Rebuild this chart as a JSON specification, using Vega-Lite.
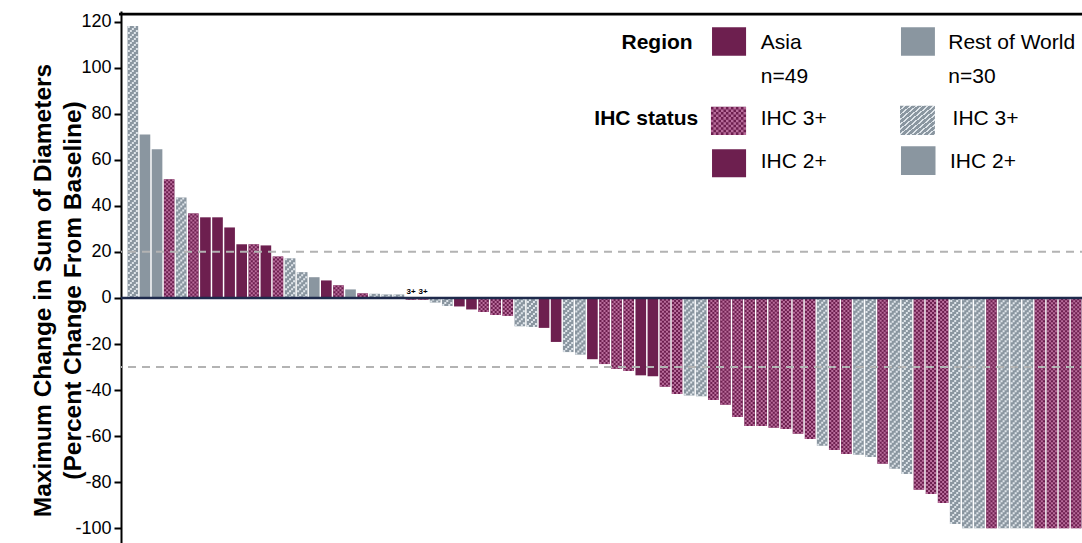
{
  "$schema": "https://vega.github.io/schema/vega-lite/v6.json",
  "width": 967,
  "height": 534,
  "autosize": {"type": "none"},
  "padding": {"left": 121, "top": 11, "right": -6, "bottom": -2},
  "background": "white",
  "config": {"view": {"stroke": null}, "font": "Liberation Sans"},
  "datasets": {
    "patients": [
      {"id": 1, "region": "Rest of World", "ihc": "3+", "value": 118},
      {"id": 2, "region": "Rest of World", "ihc": "2+", "value": 71},
      {"id": 3, "region": "Rest of World", "ihc": "2+", "value": 64.5},
      {"id": 4, "region": "Asia", "ihc": "3+", "value": 51.5},
      {"id": 5, "region": "Rest of World", "ihc": "3+", "value": 43.6},
      {"id": 6, "region": "Asia", "ihc": "3+", "value": 36.7},
      {"id": 7, "region": "Asia", "ihc": "2+", "value": 35},
      {"id": 8, "region": "Asia", "ihc": "2+", "value": 35},
      {"id": 9, "region": "Asia", "ihc": "2+", "value": 30.6},
      {"id": 10, "region": "Asia", "ihc": "2+", "value": 23.3},
      {"id": 11, "region": "Asia", "ihc": "3+", "value": 23.3},
      {"id": 12, "region": "Asia", "ihc": "2+", "value": 22.8},
      {"id": 13, "region": "Asia", "ihc": "3+", "value": 18},
      {"id": 14, "region": "Rest of World", "ihc": "3+", "value": 17.2},
      {"id": 15, "region": "Rest of World", "ihc": "3+", "value": 11.2},
      {"id": 16, "region": "Rest of World", "ihc": "2+", "value": 9},
      {"id": 17, "region": "Asia", "ihc": "2+", "value": 7.6},
      {"id": 18, "region": "Asia", "ihc": "3+", "value": 5.5},
      {"id": 19, "region": "Rest of World", "ihc": "2+", "value": 3.7},
      {"id": 20, "region": "Asia", "ihc": "3+", "value": 2.0},
      {"id": 21, "region": "Rest of World", "ihc": "3+", "value": 1.8},
      {"id": 22, "region": "Rest of World", "ihc": "3+", "value": 1.5},
      {"id": 23, "region": "Rest of World", "ihc": "3+", "value": 1.5},
      {"id": 24, "region": "Asia", "ihc": "3+", "value": -0.8, "label": "3+"},
      {"id": 25, "region": "Asia", "ihc": "3+", "value": -0.8, "label": "3+"},
      {"id": 26, "region": "Rest of World", "ihc": "3+", "value": -2},
      {"id": 27, "region": "Rest of World", "ihc": "3+", "value": -3.5},
      {"id": 28, "region": "Asia", "ihc": "2+", "value": -3.7},
      {"id": 29, "region": "Asia", "ihc": "2+", "value": -5},
      {"id": 30, "region": "Asia", "ihc": "3+", "value": -6.1},
      {"id": 31, "region": "Asia", "ihc": "3+", "value": -7.4},
      {"id": 32, "region": "Asia", "ihc": "3+", "value": -7.8},
      {"id": 33, "region": "Rest of World", "ihc": "3+", "value": -12.3},
      {"id": 34, "region": "Rest of World", "ihc": "3+", "value": -12.6},
      {"id": 35, "region": "Asia", "ihc": "2+", "value": -13},
      {"id": 36, "region": "Asia", "ihc": "2+", "value": -19.1},
      {"id": 37, "region": "Rest of World", "ihc": "3+", "value": -23.5},
      {"id": 38, "region": "Rest of World", "ihc": "3+", "value": -24.6},
      {"id": 39, "region": "Asia", "ihc": "2+", "value": -26.6},
      {"id": 40, "region": "Asia", "ihc": "3+", "value": -28.7},
      {"id": 41, "region": "Asia", "ihc": "3+", "value": -30.8},
      {"id": 42, "region": "Asia", "ihc": "3+", "value": -31.7},
      {"id": 43, "region": "Asia", "ihc": "2+", "value": -33.6},
      {"id": 44, "region": "Asia", "ihc": "2+", "value": -34},
      {"id": 45, "region": "Asia", "ihc": "3+", "value": -38.6},
      {"id": 46, "region": "Asia", "ihc": "3+", "value": -41.7},
      {"id": 47, "region": "Rest of World", "ihc": "3+", "value": -42.3},
      {"id": 48, "region": "Rest of World", "ihc": "3+", "value": -42.7},
      {"id": 49, "region": "Asia", "ihc": "3+", "value": -44.3},
      {"id": 50, "region": "Asia", "ihc": "3+", "value": -46.4},
      {"id": 51, "region": "Asia", "ihc": "3+", "value": -51.7},
      {"id": 52, "region": "Asia", "ihc": "3+", "value": -55.6},
      {"id": 53, "region": "Asia", "ihc": "3+", "value": -55.6},
      {"id": 54, "region": "Asia", "ihc": "3+", "value": -56.3},
      {"id": 55, "region": "Asia", "ihc": "3+", "value": -56.9},
      {"id": 56, "region": "Asia", "ihc": "3+", "value": -59},
      {"id": 57, "region": "Asia", "ihc": "3+", "value": -61.2},
      {"id": 58, "region": "Rest of World", "ihc": "3+", "value": -64.2},
      {"id": 59, "region": "Asia", "ihc": "3+", "value": -66},
      {"id": 60, "region": "Asia", "ihc": "3+", "value": -67.7},
      {"id": 61, "region": "Rest of World", "ihc": "3+", "value": -68.1},
      {"id": 62, "region": "Rest of World", "ihc": "3+", "value": -69},
      {"id": 63, "region": "Asia", "ihc": "3+", "value": -72},
      {"id": 64, "region": "Rest of World", "ihc": "3+", "value": -74.2},
      {"id": 65, "region": "Rest of World", "ihc": "3+", "value": -76.4},
      {"id": 66, "region": "Asia", "ihc": "3+", "value": -83.3},
      {"id": 67, "region": "Asia", "ihc": "3+", "value": -85.1},
      {"id": 68, "region": "Asia", "ihc": "3+", "value": -89},
      {"id": 69, "region": "Rest of World", "ihc": "3+", "value": -98.1},
      {"id": 70, "region": "Rest of World", "ihc": "3+", "value": -100},
      {"id": 71, "region": "Rest of World", "ihc": "3+", "value": -100},
      {"id": 72, "region": "Asia", "ihc": "3+", "value": -100},
      {"id": 73, "region": "Rest of World", "ihc": "3+", "value": -100},
      {"id": 74, "region": "Rest of World", "ihc": "3+", "value": -100},
      {"id": 75, "region": "Rest of World", "ihc": "3+", "value": -100},
      {"id": 76, "region": "Asia", "ihc": "3+", "value": -100},
      {"id": 77, "region": "Asia", "ihc": "3+", "value": -100},
      {"id": 78, "region": "Asia", "ihc": "3+", "value": -100},
      {"id": 79, "region": "Asia", "ihc": "3+", "value": -100}
    ],
    "refs": [{"level": 20}, {"level": -30}],
    "zero": [{"level": 0}],
    "border": [{"lx": -0.2, "lx2": 100, "ly": 122.6, "ly2": 123.8}],
    "swatches": [
      {"lx": 61.12, "lx2": 64.64, "ly": 117.5, "ly2": 105.1, "region": "Asia"},
      {"lx": 80.66, "lx2": 84.17, "ly": 117.5, "ly2": 105.1, "region": "Rest of World"},
      {"lx": 61.12, "lx2": 64.64, "ly": 64.5, "ly2": 52.4, "region": "Asia"},
      {"lx": 80.66, "lx2": 84.23, "ly": 65.9, "ly2": 53.4, "region": "Rest of World"},
      {"lx": 61.01, "lx2": 64.64, "ly": 83.0, "ly2": 70.7, "region": "Asia"}
    ],
    "hatchSwatch": [{"lx": 80.56, "lx2": 84.17, "ly": 83.4, "ly2": 70.7}],
    "checkSwatch": [{"lx": 62.82, "ly": 76.85}],
    "legendTitles": [
      {"lx": 59.12, "ly": 110.5, "t": "Region"},
      {"lx": 59.69, "ly": 77.5, "t": "IHC status"}
    ],
    "legendLabels": [
      {"lx": 66.16, "ly": 110.5, "t": "Asia"},
      {"lx": 66.16, "ly": 96.0, "t": "n=49"},
      {"lx": 85.55, "ly": 110.5, "t": "Rest of World"},
      {"lx": 85.55, "ly": 96.0, "t": "n=30"},
      {"lx": 66.16, "ly": 77.5, "t": "IHC 3+"},
      {"lx": 66.16, "ly": 59.1, "t": "IHC 2+"},
      {"lx": 86.0, "ly": 77.5, "t": "IHC 3+"},
      {"lx": 85.73, "ly": 59.1, "t": "IHC 2+"}
    ]
  },
  "layer": [
    {
      "data": {"name": "patients"},
      "layer": [
        {
          "mark": {"type": "bar"},
          "encoding": {
            "x": {"field": "id", "type": "ordinal", "scale": {"paddingInner": 0.12, "paddingOuter": 0.54}, "axis": null},
            "y": {"field": "value", "type": "quantitative", "scale": {"domain": [-107.25, 124.56], "nice": false, "zero": false},
              "axis": {
                "title": ["Maximum Change in Sum of Diameters", "(Percent Change From Baseline)"],
                "values": [-100, -80, -60, -40, -20, 0, 20, 40, 60, 80, 100, 120],
                "labelExpr": "'' + datum.value",
                "grid": false, "domainColor": "#000000", "domainWidth": 2,
                "tickColor": "#000000", "tickWidth": 2, "tickSize": 7,
                "labelFont": "Liberation Sans", "labelFontSize": 18, "labelColor": "#000000", "labelPadding": 3, "labelFlush": false,
                "titleFont": "Liberation Sans", "titleFontSize": 24.5, "titleFontWeight": "bold", "titleColor": "#000000",
                "titleLineHeight": 30, "titleAngle": 270, "titleAlign": "center", "titleBaseline": "alphabetic",
                "titleX": -71, "titleY": 279
              }},
            "y2": {"datum": 0},
            "fill": {"field": "region", "type": "nominal", "scale": {"domain": ["Asia", "Rest of World"], "range": ["#6d1f4f", "#8a96a0"]}, "legend": null}
          }
        },
        {
          "mark": {"type": "rule", "strokeWidth": 2, "strokeDash": [2, 2], "strokeDashOffset": 0, "xOffset": -4},
          "encoding": {"x": {"field": "id", "type": "ordinal"}, "y": {"field": "value", "type": "quantitative", "scale": {"domain": [-107.25, 124.56], "nice": false, "zero": false}}, "y2": {"datum": 0},
            "stroke": {"condition": {"test": "datum.region === 'Asia' && datum.ihc === '3+'", "value": "#b86d9b"}, "value": "transparent"}}
        },
        {
          "mark": {"type": "rule", "strokeWidth": 2, "strokeDash": [2, 2], "strokeDashOffset": 2, "xOffset": -2},
          "encoding": {"x": {"field": "id", "type": "ordinal"}, "y": {"field": "value", "type": "quantitative", "scale": {"domain": [-107.25, 124.56], "nice": false, "zero": false}}, "y2": {"datum": 0},
            "stroke": {"condition": {"test": "datum.region === 'Asia' && datum.ihc === '3+'", "value": "#b86d9b"}, "value": "transparent"}}
        },
        {
          "mark": {"type": "rule", "strokeWidth": 2, "strokeDash": [2, 2], "strokeDashOffset": 0, "xOffset": 0},
          "encoding": {"x": {"field": "id", "type": "ordinal"}, "y": {"field": "value", "type": "quantitative", "scale": {"domain": [-107.25, 124.56], "nice": false, "zero": false}}, "y2": {"datum": 0},
            "stroke": {"condition": {"test": "datum.region === 'Asia' && datum.ihc === '3+'", "value": "#b86d9b"}, "value": "transparent"}}
        },
        {
          "mark": {"type": "rule", "strokeWidth": 2, "strokeDash": [2, 2], "strokeDashOffset": 2, "xOffset": 2},
          "encoding": {"x": {"field": "id", "type": "ordinal"}, "y": {"field": "value", "type": "quantitative", "scale": {"domain": [-107.25, 124.56], "nice": false, "zero": false}}, "y2": {"datum": 0},
            "stroke": {"condition": {"test": "datum.region === 'Asia' && datum.ihc === '3+'", "value": "#b86d9b"}, "value": "transparent"}}
        },
        {
          "mark": {"type": "rule", "strokeWidth": 2, "strokeDash": [2, 2], "strokeDashOffset": 0, "xOffset": 4},
          "encoding": {"x": {"field": "id", "type": "ordinal"}, "y": {"field": "value", "type": "quantitative", "scale": {"domain": [-107.25, 124.56], "nice": false, "zero": false}}, "y2": {"datum": 0},
            "stroke": {"condition": {"test": "datum.region === 'Asia' && datum.ihc === '3+'", "value": "#b86d9b"}, "value": "transparent"}}
        },
        {
          "mark": {"type": "rule", "strokeWidth": 2, "strokeDash": [2, 4], "strokeDashOffset": 0, "xOffset": -4},
          "encoding": {"x": {"field": "id", "type": "ordinal"}, "y": {"field": "value", "type": "quantitative", "scale": {"domain": [-107.25, 124.56], "nice": false, "zero": false}}, "y2": {"datum": 0},
            "stroke": {"condition": {"test": "datum.region === 'Rest of World' && datum.ihc === '3+' && datum.value < 0", "value": "#dfe5ea"}, "value": "transparent"}}
        },
        {
          "mark": {"type": "rule", "strokeWidth": 2, "strokeDash": [2, 4], "strokeDashOffset": 4, "xOffset": -2},
          "encoding": {"x": {"field": "id", "type": "ordinal"}, "y": {"field": "value", "type": "quantitative", "scale": {"domain": [-107.25, 124.56], "nice": false, "zero": false}}, "y2": {"datum": 0},
            "stroke": {"condition": {"test": "datum.region === 'Rest of World' && datum.ihc === '3+' && datum.value < 0", "value": "#dfe5ea"}, "value": "transparent"}}
        },
        {
          "mark": {"type": "rule", "strokeWidth": 2, "strokeDash": [2, 4], "strokeDashOffset": 2, "xOffset": 0},
          "encoding": {"x": {"field": "id", "type": "ordinal"}, "y": {"field": "value", "type": "quantitative", "scale": {"domain": [-107.25, 124.56], "nice": false, "zero": false}}, "y2": {"datum": 0},
            "stroke": {"condition": {"test": "datum.region === 'Rest of World' && datum.ihc === '3+' && datum.value < 0", "value": "#dfe5ea"}, "value": "transparent"}}
        },
        {
          "mark": {"type": "rule", "strokeWidth": 2, "strokeDash": [2, 4], "strokeDashOffset": 0, "xOffset": 2},
          "encoding": {"x": {"field": "id", "type": "ordinal"}, "y": {"field": "value", "type": "quantitative", "scale": {"domain": [-107.25, 124.56], "nice": false, "zero": false}}, "y2": {"datum": 0},
            "stroke": {"condition": {"test": "datum.region === 'Rest of World' && datum.ihc === '3+' && datum.value < 0", "value": "#dfe5ea"}, "value": "transparent"}}
        },
        {
          "mark": {"type": "rule", "strokeWidth": 2, "strokeDash": [2, 4], "strokeDashOffset": 4, "xOffset": 4},
          "encoding": {"x": {"field": "id", "type": "ordinal"}, "y": {"field": "value", "type": "quantitative", "scale": {"domain": [-107.25, 124.56], "nice": false, "zero": false}}, "y2": {"datum": 0},
            "stroke": {"condition": {"test": "datum.region === 'Rest of World' && datum.ihc === '3+' && datum.value < 0", "value": "#dfe5ea"}, "value": "transparent"}}
        },
        {
          "mark": {"type": "rule", "strokeWidth": 2, "strokeDash": [2, 4], "strokeDashOffset": 0, "xOffset": -4},
          "encoding": {"x": {"field": "id", "type": "ordinal"}, "y": {"field": "value", "type": "quantitative", "scale": {"domain": [-107.25, 124.56], "nice": false, "zero": false}}, "y2": {"datum": 0},
            "stroke": {"condition": {"test": "datum.region === 'Rest of World' && datum.ihc === '3+' && datum.value >= 0", "value": "#dfe5ea"}, "value": "transparent"}}
        },
        {
          "mark": {"type": "rule", "strokeWidth": 2, "strokeDash": [2, 4], "strokeDashOffset": 2, "xOffset": -2},
          "encoding": {"x": {"field": "id", "type": "ordinal"}, "y": {"field": "value", "type": "quantitative", "scale": {"domain": [-107.25, 124.56], "nice": false, "zero": false}}, "y2": {"datum": 0},
            "stroke": {"condition": {"test": "datum.region === 'Rest of World' && datum.ihc === '3+' && datum.value >= 0", "value": "#dfe5ea"}, "value": "transparent"}}
        },
        {
          "mark": {"type": "rule", "strokeWidth": 2, "strokeDash": [2, 4], "strokeDashOffset": 4, "xOffset": 0},
          "encoding": {"x": {"field": "id", "type": "ordinal"}, "y": {"field": "value", "type": "quantitative", "scale": {"domain": [-107.25, 124.56], "nice": false, "zero": false}}, "y2": {"datum": 0},
            "stroke": {"condition": {"test": "datum.region === 'Rest of World' && datum.ihc === '3+' && datum.value >= 0", "value": "#dfe5ea"}, "value": "transparent"}}
        },
        {
          "mark": {"type": "rule", "strokeWidth": 2, "strokeDash": [2, 4], "strokeDashOffset": 0, "xOffset": 2},
          "encoding": {"x": {"field": "id", "type": "ordinal"}, "y": {"field": "value", "type": "quantitative", "scale": {"domain": [-107.25, 124.56], "nice": false, "zero": false}}, "y2": {"datum": 0},
            "stroke": {"condition": {"test": "datum.region === 'Rest of World' && datum.ihc === '3+' && datum.value >= 0", "value": "#dfe5ea"}, "value": "transparent"}}
        },
        {
          "mark": {"type": "rule", "strokeWidth": 2, "strokeDash": [2, 4], "strokeDashOffset": 2, "xOffset": 4},
          "encoding": {"x": {"field": "id", "type": "ordinal"}, "y": {"field": "value", "type": "quantitative", "scale": {"domain": [-107.25, 124.56], "nice": false, "zero": false}}, "y2": {"datum": 0},
            "stroke": {"condition": {"test": "datum.region === 'Rest of World' && datum.ihc === '3+' && datum.value >= 0", "value": "#dfe5ea"}, "value": "transparent"}}
        },
        {
          "data": {"name": "refs"},
          "mark": {"type": "rule", "stroke": "#b3b3b3", "strokeWidth": 2, "strokeDash": [8, 6]},
          "encoding": {"y": {"field": "level", "type": "quantitative", "scale": {"domain": [-107.25, 124.56], "nice": false, "zero": false}}}
        },
        {
          "data": {"name": "zero"},
          "mark": {"type": "rule", "stroke": "#1e2a4c", "strokeWidth": 2.5},
          "encoding": {"y": {"field": "level", "type": "quantitative", "scale": {"domain": [-107.25, 124.56], "nice": false, "zero": false}}}
        },
        {
          "transform": [{"filter": "datum.label"}],
          "mark": {"type": "text", "font": "Liberation Sans", "fontSize": 8, "fontWeight": "bold", "fill": "#000000", "baseline": "alphabetic", "dy": -4},
          "encoding": {"x": {"field": "id", "type": "ordinal"}, "y": {"datum": 0, "type": "quantitative", "scale": {"domain": [-107.25, 124.56], "nice": false, "zero": false}}, "text": {"field": "label"}}
        }
      ]
    },
    {
      "layer": [
        {
          "data": {"name": "border"},
          "mark": {"type": "rect", "fill": "#000000"},
          "encoding": {
            "x": {"field": "lx", "type": "quantitative", "scale": {"domain": [0, 100]}, "axis": null},
            "x2": {"field": "lx2"},
            "y": {"field": "ly", "type": "quantitative", "scale": {"domain": [-107.25, 124.56], "nice": false, "zero": false}},
            "y2": {"field": "ly2"}
          }
        },
        {
          "data": {"name": "swatches"},
          "mark": {"type": "rect"},
          "encoding": {
            "x": {"field": "lx", "type": "quantitative", "scale": {"domain": [0, 100]}, "axis": null},
            "x2": {"field": "lx2"},
            "y": {"field": "ly", "type": "quantitative", "scale": {"domain": [-107.25, 124.56], "nice": false, "zero": false}},
            "y2": {"field": "ly2"},
            "fill": {"field": "region", "type": "nominal", "scale": {"domain": ["Asia", "Rest of World"], "range": ["#6d1f4f", "#8a96a0"]}, "legend": null}
          }
        },
        {
          "data": {"name": "hatchSwatch"},
          "mark": {"type": "rect", "fill": {"gradient": "linear", "x1": 0, "y1": 0, "x2": 1, "y2": 1, "stops": [
            {"offset": 0, "color": "#8a96a0"}, {"offset": 0.0556, "color": "#8a96a0"}, {"offset": 0.0556, "color": "#dfe5ea"}, {"offset": 0.0833, "color": "#dfe5ea"},
            {"offset": 0.0833, "color": "#8a96a0"}, {"offset": 0.1389, "color": "#8a96a0"}, {"offset": 0.1389, "color": "#dfe5ea"}, {"offset": 0.1667, "color": "#dfe5ea"},
            {"offset": 0.1667, "color": "#8a96a0"}, {"offset": 0.2222, "color": "#8a96a0"}, {"offset": 0.2222, "color": "#dfe5ea"}, {"offset": 0.25, "color": "#dfe5ea"},
            {"offset": 0.25, "color": "#8a96a0"}, {"offset": 0.3056, "color": "#8a96a0"}, {"offset": 0.3056, "color": "#dfe5ea"}, {"offset": 0.3333, "color": "#dfe5ea"},
            {"offset": 0.3333, "color": "#8a96a0"}, {"offset": 0.3889, "color": "#8a96a0"}, {"offset": 0.3889, "color": "#dfe5ea"}, {"offset": 0.4167, "color": "#dfe5ea"},
            {"offset": 0.4167, "color": "#8a96a0"}, {"offset": 0.4722, "color": "#8a96a0"}, {"offset": 0.4722, "color": "#dfe5ea"}, {"offset": 0.5, "color": "#dfe5ea"},
            {"offset": 0.5, "color": "#8a96a0"}, {"offset": 0.5556, "color": "#8a96a0"}, {"offset": 0.5556, "color": "#dfe5ea"}, {"offset": 0.5833, "color": "#dfe5ea"},
            {"offset": 0.5833, "color": "#8a96a0"}, {"offset": 0.6389, "color": "#8a96a0"}, {"offset": 0.6389, "color": "#dfe5ea"}, {"offset": 0.6667, "color": "#dfe5ea"},
            {"offset": 0.6667, "color": "#8a96a0"}, {"offset": 0.7222, "color": "#8a96a0"}, {"offset": 0.7222, "color": "#dfe5ea"}, {"offset": 0.75, "color": "#dfe5ea"},
            {"offset": 0.75, "color": "#8a96a0"}, {"offset": 0.8056, "color": "#8a96a0"}, {"offset": 0.8056, "color": "#dfe5ea"}, {"offset": 0.8333, "color": "#dfe5ea"},
            {"offset": 0.8333, "color": "#8a96a0"}, {"offset": 0.8889, "color": "#8a96a0"}, {"offset": 0.8889, "color": "#dfe5ea"}, {"offset": 0.9167, "color": "#dfe5ea"},
            {"offset": 0.9167, "color": "#8a96a0"}, {"offset": 0.9722, "color": "#8a96a0"}, {"offset": 0.9722, "color": "#dfe5ea"}, {"offset": 1, "color": "#dfe5ea"}
          ]}},
          "encoding": {
            "x": {"field": "lx", "type": "quantitative", "scale": {"domain": [0, 100]}, "axis": null},
            "x2": {"field": "lx2"},
            "y": {"field": "ly", "type": "quantitative", "scale": {"domain": [-107.25, 124.56], "nice": false, "zero": false}},
            "y2": {"field": "ly2"}
          }
        },
        {
          "data": {"name": "checkSwatch"},
          "mark": {
            "type": "point", "filled": true, "fill": "#b86d9b", "strokeWidth": 0, "opacity": 1, "size": 1225,
            "shape": "M-0.8571,-0.8h0.1429V0.8h-0.1429ZM-0.5714,-0.8h0.1429V0.8h-0.1429ZM-0.2857,-0.8h0.1429V0.8h-0.1429ZM0,-0.8h0.1429V0.8h-0.1429ZM0.2857,-0.8h0.1429V0.8h-0.1429ZM0.5714,-0.8h0.1429V0.8h-0.1429ZM0.8571,-0.8h0.1429V0.8h-0.1429ZM-1,-0.6545V-0.5091H1V-0.6545ZM-1,-0.3636V-0.2182H1V-0.3636ZM-1,-0.0727V0.0727H1V-0.0727ZM-1,0.2182V0.3636H1V0.2182ZM-1,0.5091V0.6545H1V0.5091Z"
          },
          "encoding": {
            "x": {"field": "lx", "type": "quantitative", "scale": {"domain": [0, 100]}, "axis": null},
            "y": {"field": "ly", "type": "quantitative", "scale": {"domain": [-107.25, 124.56], "nice": false, "zero": false}}
          }
        },
        {
          "data": {"name": "legendTitles"},
          "mark": {"type": "text", "font": "Liberation Sans", "fontSize": 21, "fontWeight": "bold", "fill": "#000000", "align": "right", "baseline": "middle"},
          "encoding": {
            "x": {"field": "lx", "type": "quantitative", "scale": {"domain": [0, 100]}, "axis": null},
            "y": {"field": "ly", "type": "quantitative", "scale": {"domain": [-107.25, 124.56], "nice": false, "zero": false}},
            "text": {"field": "t"}
          }
        },
        {
          "data": {"name": "legendLabels"},
          "mark": {"type": "text", "font": "Liberation Sans", "fontSize": 21, "fill": "#000000", "align": "left", "baseline": "middle"},
          "encoding": {
            "x": {"field": "lx", "type": "quantitative", "scale": {"domain": [0, 100]}, "axis": null},
            "y": {"field": "ly", "type": "quantitative", "scale": {"domain": [-107.25, 124.56], "nice": false, "zero": false}},
            "text": {"field": "t"}
          }
        }
      ]
    }
  ],
  "resolve": {"scale": {"x": "independent"}, "axis": {"x": "independent"}}
}
